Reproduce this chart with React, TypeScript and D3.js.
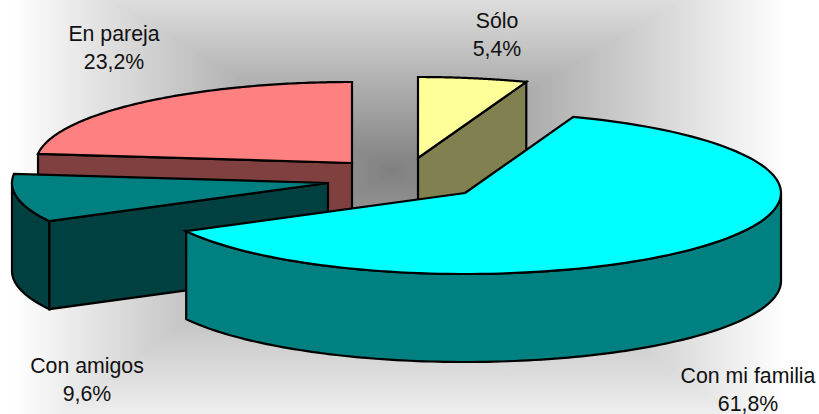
import React from "react";
import * as d3 from "d3";

const categories = ["Con mi familia", "Con amigos", "En pareja", "Sólo"];
const shares = [61.8, 9.6, 23.2, 5.4];
const shareLabels = ["61,8%", "9,6%", "23,2%", "5,4%"];
const topColors = ["#00ffff", "#008080", "#ff8080", "#ffff99"];
const wallColors = ["#008080", "#004040", "#804040", "#808050"];

const W = 819, H = 414;
const RX = 316, RY = 81, DEPTH = 88;
const START = (19.44 * Math.PI) / 180;
// small correction of the edge shared by Sólo and Con mi familia (perspective of the original)
const EDGE_NUDGE = (0.6 * Math.PI) / 180;
// exploded centre of each slice, in category order
const centres: [number, number][] = [[465, 193], [328, 183], [352, 163], [418, 158]];
const labelPos: [number, number][] = [[748, 383], [87, 373], [114, 41], [497, 28]];
const paintOrder = [2, 3, 1, 0];

const bg = { x0: 12, x1: 785, y0: -60, y1: 450, cx: 392, cy: 170 };

const slices = d3
  .pie<number>()
  .sort(null)
  .startAngle(START)
  .endAngle(START + 2 * Math.PI)(shares);

const pt = (c: [number, number], a: number, dy = 0): [number, number] => [
  c[0] + RX * Math.sin(a),
  c[1] - RY * Math.cos(a) + dy,
];
const line = d3.line();
const arcPts = (c: [number, number], a0: number, a1: number, dy = 0) =>
  d3.range(0, 121).map((i) => pt(c, a0 + ((a1 - a0) * i) / 120, dy));

function Slice({ i }: { i: number }) {
  const s = slices[i];
  const c = centres[i];
  const a0 = s.startAngle + (i === 0 ? EDGE_NUDGE : 0);
  const a1 = s.endAngle + (i === 3 ? EDGE_NUDGE : 0);
  const tip: [number, number] = c;
  const tipB: [number, number] = [c[0], c[1] + DEPTH];
  const parts: React.ReactNode[] = [];
  const stroke = { stroke: "#000", strokeWidth: 2.2, strokeLinejoin: "miter" as const };

  // a radial face is drawn when its normal points towards the viewer
  const faces: number[] = [];
  if (Math.sin(a0) < -1e-6) faces.push(a0);
  if (Math.sin(a1) > 1e-6) faces.push(a1);
  faces.forEach((a, k) => {
    const e = pt(c, a);
    const eB = pt(c, a, DEPTH);
    parts.push(
      <path key={"f" + k} d={line([tip, e, eB, tipB])! + "Z"} fill={wallColors[i]} {...stroke} />
    );
  });

  // outer wall over the front half of the ellipse
  const w0 = Math.max(a0, Math.PI / 2);
  const w1 = Math.min(a1, (3 * Math.PI) / 2);
  if (w1 > w0) {
    const topEdge = arcPts(c, w0, w1);
    const botEdge = arcPts(c, w1, w0, DEPTH);
    parts.push(
      <path key="w" d={line([...topEdge, ...botEdge])! + "Z"} fill={wallColors[i]} {...stroke} />
    );
  }
  parts.push(
    <path key="t" d={line([tip, ...arcPts(c, a0, a1)])! + "Z"} fill={topColors[i]} {...stroke} />
  );
  return <g>{parts}</g>;
}

export default function App() {
  const { x0, x1, y0, y1, cx, cy } = bg;
  // top and bottom are painted as full bands so the side triangles leave no seam over them
  const tris: { id: string; pts: [number, number][]; to: [number, number] }[] = [
    { id: "gT", pts: [[x0, y0], [x1, y0], [x1, cy], [x0, cy]], to: [cx, y0] },
    { id: "gB", pts: [[x0, cy], [x1, cy], [x1, y1], [x0, y1]], to: [cx, y1] },
    { id: "gL", pts: [[x0, y0], [x0, y1], [cx, cy]], to: [x0, cy] },
    { id: "gR", pts: [[x1, y0], [x1, y1], [cx, cy]], to: [x1, cy] },
  ];
  return (
    <svg
      width={W}
      height={H}
      viewBox={`0 0 ${W} ${H}`}
      style={{ position: "absolute", left: 0, top: 0, display: "block", background: "#fff" }}
    >
      <defs>
        {tris.map((t) => (
          <linearGradient key={t.id} id={t.id} gradientUnits="userSpaceOnUse" x1={cx} y1={cy} x2={t.to[0]} y2={t.to[1]}>
            <stop offset="0" stopColor="#808080" />
            <stop offset="1" stopColor="#ffffff" />
          </linearGradient>
        ))}
      </defs>
      {tris.map((t) => (
        <path key={t.id} d={line(t.pts)! + "Z"} fill={`url(#${t.id})`} />
      ))}
      {paintOrder.map((i) => (
        <Slice key={i} i={i} />
      ))}
      {categories.map((name, i) => (
        <text
          key={name}
          textAnchor="middle"
          fontFamily="'Liberation Sans', Arial, sans-serif"
          fontSize={21.3}
          fill="#111"
        >
          <tspan x={labelPos[i][0]} y={labelPos[i][1]}>{name}</tspan>
          <tspan x={labelPos[i][0]} y={labelPos[i][1] + 27.5}>{shareLabels[i]}</tspan>
        </text>
      ))}
    </svg>
  );
}
